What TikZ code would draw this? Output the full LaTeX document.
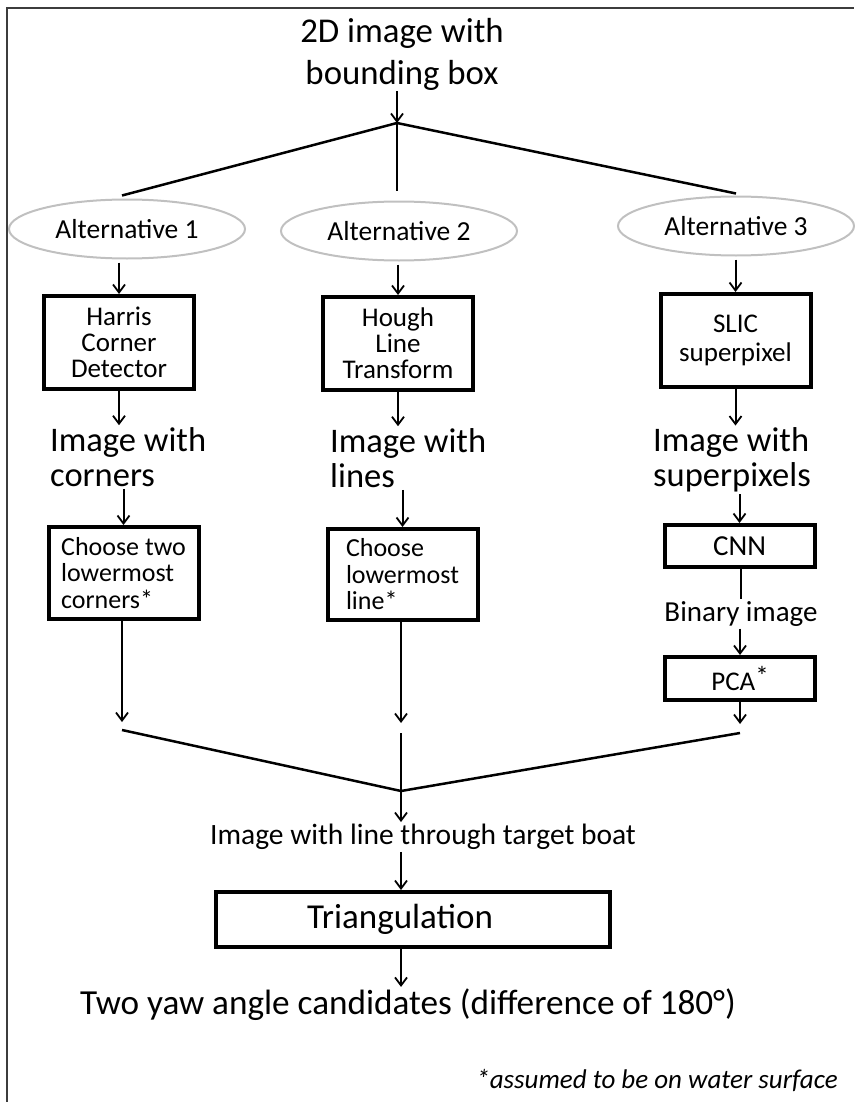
\documentclass[tikz,border=0pt]{standalone}
\usepackage{fontspec}
\setmainfont{Carlito}
\usetikzlibrary{arrows.meta, positioning, shapes.geometric}
\definecolor{ovalgray}{RGB}{192,192,192}
\definecolor{framegray}{RGB}{60,60,60}

\tikzset{
  arr/.style={line width=2pt, -{Straight Barb[length=8pt,width=12pt,line width=1.8pt]}},
  branch/.style={line width=2.5pt},
  altoval/.style={ellipse, draw=ovalgray, line width=2pt, minimum width=236pt, minimum height=59pt, inner sep=0pt, font=\fontsize{27.5}{27.5}\selectfont},
  stepbox/.style={draw, line width=4pt, minimum width=150pt, minimum height=93pt, inner sep=2pt, font=\fontsize{27}{26}\selectfont},
  smallbox/.style={stepbox, minimum height=43pt},
  bigtext/.style={inner sep=2pt, align=left, font=\fontsize{34.5}{35}\selectfont},
  midtext/.style={inner sep=2pt, font=\fontsize{29}{29}\selectfont},
}

\begin{document}
\begin{tikzpicture}[x=1pt, y=-1pt]
  \useasboundingbox (0,0) rectangle (854,1102);
  \draw[framegray, line width=1.5pt] (7,1102) -- (7,8) -- (854,8);

  \node[align=center, inner sep=1pt, font=\fontsize{34.8}{42}\selectfont] (input) at (402,54) {2D image with\\bounding box};
  \coordinate (split) at (397,123);

  \node[altoval] (alt1) at (127,229) {Alternative 1};
  \node[altoval] (alt2) at (399,231) {Alternative 2};
  \node[altoval] (alt3) at (736,226) {Alternative 3};

  \node[stepbox, align=center] (harris) at (119,342.5) {Harris\\Corner\\Detector};
  \node[stepbox, align=center] (hough) at (398,343.5) {Hough\\Line\\Transform};
  \node[stepbox, align=center, font=\fontsize{27}{29}\selectfont] (slic) at (735.5,340.5) {SLIC\\superpixel};

  \node[bigtext, anchor=west] (imgc) at (48,457) {Image with\\corners};
  \node[bigtext, anchor=west] (imgl) at (328,458) {Image with\\lines};
  \node[bigtext, anchor=west] (imgs) at (651,460) {Image with\\superpixels};

  \node[stepbox, align=left, minimum height=92pt, font=\fontsize{26}{26.5}\selectfont] (choosetwo) at (123.5,573) {Choose two\\lowermost\\corners*};
  \node[stepbox, align=left, minimum height=91pt, font=\fontsize{26}{26.5}\selectfont] (chooseline) at (402.5,574.5) {Choose\\lowermost\\line*};
  \node[smallbox, minimum height=42pt, font=\fontsize{29}{29}\selectfont] (cnn) at (739.5,546) {CNN};
  \node[midtext] (binary) at (741,614) {Binary image};
  \node[smallbox] (pca) at (740,678.5) {PCA\raisebox{0.2em}{*}};

  \coordinate (in1) at (122,730);
  \coordinate (in2) at (401,733);
  \coordinate (in3) at (740,733);
  \coordinate (join) at (401,791);

  \node[midtext, font=\fontsize{29.5}{29.5}\selectfont] (linetxt) at (423,837) {Image with line through target boat};
  \node[stepbox, minimum width=394pt, minimum height=55pt, font=\fontsize{35}{35}\selectfont] (tri) at (413,919.5) {\hspace*{-26pt}Triangulation};
  \node[inner sep=2pt, font=\fontsize{35.2}{35.2}\selectfont] (yaw) at (408,1005) {Two yaw angle candidates (difference of 180°)};
  \node[inner sep=0pt, anchor=east, font=\fontsize{27}{27}\selectfont\itshape] (note) at (838,1080) {*assumed to be on water surface};

  \draw[arr] (input.south -| split) -- (split);
  \draw[branch] (split) -- ([xshift=-5pt,yshift=3pt]alt1.north);
  \draw[branch] (split) -- ([xshift=-2pt,yshift=9pt]alt2.north);
  \draw[branch] (split) -- ([yshift=2pt]alt3.north);

  \draw[arr, shorten <=3pt] (alt1.south -| harris) -- (harris.north);
  \draw[arr, shorten <=3pt] (alt2.south -| hough) -- (hough.north);
  \draw[arr, shorten <=3pt] (alt3.south -| slic) -- (slic.north);

  \draw[arr] (harris.south) -- (harris.south |- imgc.north);
  \draw[arr] (hough.south) -- (hough.south |- imgl.north);
  \draw[arr] (slic.south) -- (slic.south |- imgs.north);

  \draw[arr] (imgc.south -| choosetwo) -- (choosetwo.north);
  \draw[arr] (imgl.south -| chooseline) -- (chooseline.north);
  \draw[arr] (imgs.south -| cnn) -- (cnn.north);

  \draw[line width=2pt] (cnn.south -| binary) -- (binary.north);
  \draw[arr] (binary.south -| pca) -- (pca.north);

  \draw[arr, shorten >=8pt] (choosetwo.south -| in1) -- (in1);
  \draw[arr, shorten >=10pt] (chooseline.south -| in2) -- (in2);
  \draw[arr, shorten >=9pt] (pca.south -| in3) -- (in3);

  \draw[branch] (in1) -- (join) -- (in3);
  \draw[branch] (in2) -- (join);
  \draw[arr] (join) -- (join |- linetxt.north);
  \draw[arr] (linetxt.south -| join) -- (tri.north -| join);
  \draw[arr] (tri.south -| join) -- (yaw.north -| join);
\end{tikzpicture}
\end{document}
